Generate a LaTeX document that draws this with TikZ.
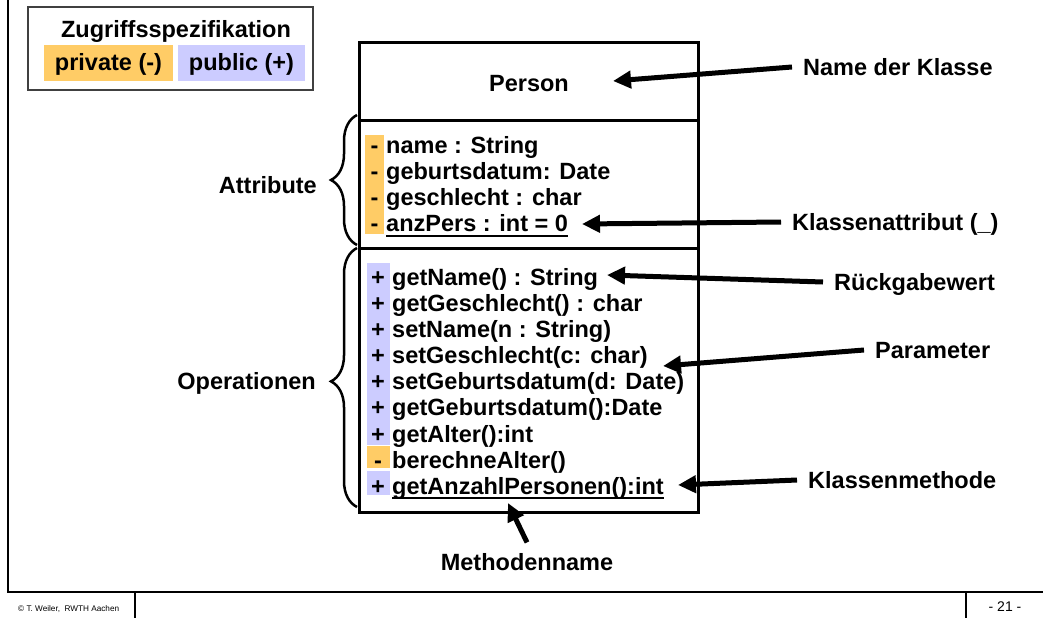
\documentclass[tikz,border=0pt]{standalone}
\usepackage{fontspec}
\setmainfont{Liberation Sans}
\usetikzlibrary{arrows.meta,decorations.pathreplacing,calc}
\definecolor{privcol}{HTML}{FFCC66}
\definecolor{pubcol}{HTML}{CCCCFF}
\definecolor{framegray}{HTML}{404040}
\begin{document}
\begin{tikzpicture}[x=1pt,y=-1pt,
  txt/.style={inner sep=0pt, font=\fontsize{23.5}{26}\selectfont\bfseries,
              text height=16.8pt, text depth=0pt},
  row/.style={txt, anchor=west},
  sign/.style={txt, anchor=center},
  lbl/.style={txt, inner sep=11pt},
  pointer/.style={line width=5pt, -{Triangle[length=18pt,width=17pt]}},
  bracestyle/.style={line width=2.5pt, decorate,
                     decoration={brace, amplitude=26pt, #1}},
  bracestyle/.default={aspect=0.5},
  underl/.style={line width=2.5pt},
]
\useasboundingbox (0,0) rectangle (1043,618);

% page frame and footer
\draw[line width=2pt] (8,0) -- (8,592) -- (1043,592);
\draw[line width=1.2pt] (135,592) -- (135,618) (966,592) -- (966,618);
\node[anchor=west, inner sep=0pt, font=\fontsize{8.2}{9}\selectfont] (copy) at (18,609) {© T. Weiler,\ \ RWTH Aachen};
\node[inner sep=0pt, font=\fontsize{14}{16}\selectfont] (page) at (1005,607) {- 21 -};

% legend of the access modifiers
\draw[framegray, line width=1.5pt] (28,7) rectangle (313,90);
\node[txt] (legtitle) at (176,29) {Zugriffsspezifikation};
\fill[privcol] (44,45) rectangle (173,81);
\fill[pubcol] (178,45) rectangle (305,81);
\node[txt] (legpriv) at (108.5,62.5) {private (-)};
\node[txt] (legpub) at (241.5,62.5) {public (+)};

% class box
\draw[line width=3pt] (359,43) rectangle (698,512);
\draw[line width=3pt] (359,120) -- (698,120) (359,248) -- (698,248);
\node[txt] (person) at (529,83) {Person};

% visibility strips
\fill[privcol] (365,135) rectangle (384,234);
\fill[pubcol] (367,263) rectangle (390,445);
\fill[privcol] (367,446) rectangle (390,468);
\fill[pubcol] (367,471) rectangle (390,495);

% attributes
\foreach \i/\t in {1/{name : String}, 2/{geburtsdatum: Date},
                   3/{geschlecht : char}, 4/{anzPers : int = 0}} {
  \node[sign] (as\i) at (374.5,{145.5+26*(\i-1)}) {-};
  \node[row] (a\i) at (386,{145.5+26*(\i-1)}) {\t};
}
\draw[underl] ($(a4.base west)+(0,4)$) -- ($(a4.base east)+(0,4)$);

% operations
\foreach \i/\s/\t in {1/+/{getName() : String}, 2/+/{getGeschlecht() : char},
                      3/+/{setName(n : String)}, 4/+/{setGeschlecht(c: char)},
                      5/+/{setGeburtsdatum(d: Date)}, 6/+/{getGeburtsdatum():Date},
                      7/+/{getAlter():int}, 8/-/{berechneAlter()},
                      9/+/{getAnzahlPersonen():int}} {
  \node[sign] (ms\i) at (378,{277+26.1*(\i-1)}) {\s};
  \node[row] (m\i) at (392,{277+26.1*(\i-1)}) {\t};
}
\draw[underl] ($(m9.base west)+(0,4)$) -- ($(m9.base east)+(0,4)$);

% compartment braces
\draw[bracestyle] (357,245) -- (357,115);
\draw[bracestyle={aspect=0.485}] (357,507) -- (357,248);
\node[txt, anchor=east] (attr) at (317,185) {Attribute};
\node[txt, anchor=east] (ops) at (316,381) {Operationen};

% annotation labels
\node[lbl, anchor=west] (lname) at (792,67) {Name der Klasse};
\node[lbl, anchor=west] (lattr) at (781,222) {Klassenattribut (\_)};
\node[lbl, anchor=west] (lret) at (823,282) {Rückgabewert};
\node[lbl, anchor=west] (lpar) at (864,350) {Parameter};
\node[lbl, anchor=west] (lcls) at (797,480) {Klassenmethode};
\node[lbl] (lmeth) at (527,562) {Methodenname};

% arrow tips
\coordinate (tname) at (613,81);
\coordinate (tattr) at (582,224);
\coordinate (tret) at (607,275);
\coordinate (tpar) at (663,366);
\coordinate (tcls) at (678,485);
\coordinate (tmeth) at (508,503);

\draw[pointer] (lname.west) -- (tname);
\draw[pointer] (lattr.west) -- (tattr);
\draw[pointer] (lret.west) -- (tret);
\draw[pointer] (lpar.west) -- (tpar);
\draw[pointer] (lcls.west) -- (tcls);
\draw[pointer] (lmeth.north) -- (tmeth);
\end{tikzpicture}
\end{document}
